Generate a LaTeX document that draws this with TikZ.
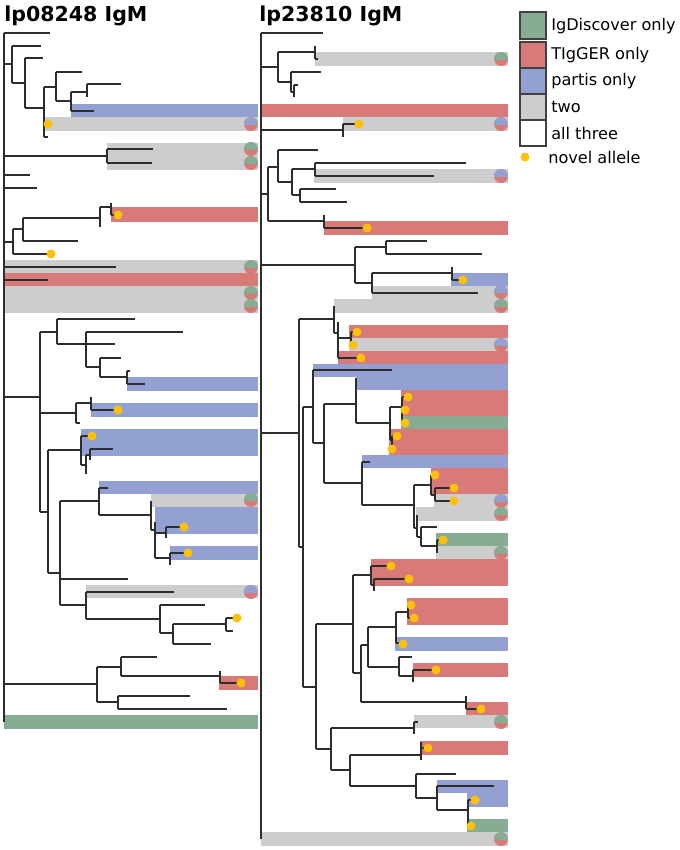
\documentclass[tikz,border=0pt]{standalone}
\usepackage{fontspec}
\setmainfont{DejaVu Sans}
\definecolor{cg}{RGB}{134,172,148}
\definecolor{cr}{RGB}{216,122,120}
\definecolor{cb}{RGB}{147,161,210}
\definecolor{cgr}{RGB}{205,205,205}
\definecolor{cy}{RGB}{255,192,10}
\definecolor{tl}{RGB}{45,45,45}
\newcommand\vs[3]{\draw[tree] (#1,#2) -- (#1,#3);}
\newcommand\hs[3]{\draw[tree] (#2,#1) -- (#3,#1);}
\newcommand\bd[5]{\fill[#1] (#2,#4) rectangle (#3,#5);}
\newcommand\dt[2]{\fill[cy] (#1,#2) circle[radius=4.5];}
\newcommand\pc[4]{\fill[#4] (#1,#2) circle[radius=7];
  \begin{scope}\clip ({#1-8},{#2-8}) rectangle ({#1+8},#2);
  \fill[#3] (#1,#2) circle[radius=7];\end{scope}}
\begin{document}
\begin{tikzpicture}[x=0.75pt,y=-0.75pt,
  tree/.style={draw=tl,line width=0.95pt,line cap=square},
  ttl/.style={anchor=base west,inner sep=0pt,font=\fontsize{15.4}{18}\selectfont\bfseries},
  lgbox/.style={draw=black!75,line width=0.9pt},
  lgtxt/.style={anchor=west,inner sep=0pt,font=\fontsize{12.1}{14}\selectfont}]
\useasboundingbox (0,0) rectangle (680,850);
\fill[white] (0,0) rectangle (680,850);
% ---------- titles
\node[ttl] (t1) at (4,21) {lp08248 IgM};
\node[ttl] (t2) at (259,21) {lp23810 IgM};
% ---------- LEFT bands
\bd{cb}{71}{258}{104}{117}
\bd{cgr}{44}{258}{117}{131}
\bd{cgr}{107}{258}{143}{170}
\bd{cr}{111}{258}{207}{222}
\bd{cgr}{4}{258}{260}{273}
\bd{cr}{4}{258}{273}{286}
\bd{cgr}{4}{258}{286}{313}
\bd{cb}{127}{258}{377}{391}
\bd{cb}{91}{258}{403}{417}
\bd{cb}{81}{258}{429}{456}
\bd{cb}{99}{258}{481}{494}
\bd{cgr}{151}{258}{494}{507}
\bd{cb}{155}{258}{507}{534}
\bd{cb}{170}{258}{546}{560}
\bd{cgr}{86}{258}{585}{598}
\bd{cr}{219}{258}{676}{690}
\bd{cg}{4}{258}{715}{729}
% ---------- LEFT tree
\vs{4}{33}{722}
\hs{33}{4}{50}
\hs{64}{4}{12}
\vs{12}{46}{83} \hs{46}{12}{41} \hs{83}{12}{25}
\vs{25}{58}{108} \hs{58}{25}{43} \hs{108}{25}{44}
\vs{44}{87}{137} \hs{87}{44}{56} \hs{124}{44}{46} \hs{137}{44}{48}
\vs{56}{72}{101} \hs{72}{56}{82} \hs{101}{56}{71}
\vs{71}{92}{111} \hs{92}{71}{87} \hs{111}{71}{94}
\vs{87}{84}{97} \hs{84}{87}{121}
\hs{156}{4}{107}
\vs{107}{149}{163} \hs{149}{107}{153} \hs{163}{107}{152}
\hs{175}{4}{30}
\hs{188}{4}{37}
\hs{242}{4}{13}
\vs{13}{229}{254} \hs{229}{13}{23} \hs{254}{13}{48}
\vs{23}{218}{241} \hs{218}{23}{100} \hs{241}{23}{78}
\vs{100}{207}{227} \hs{207}{100}{111}
\vs{111}{203}{215} \hs{215}{111}{115}
\hs{267}{4}{116}
\hs{280}{4}{48}
\hs{397}{4}{40}
\vs{40}{332}{512} \hs{332}{40}{57} \hs{413}{40}{76} \hs{512}{40}{48}
\vs{57}{319}{344} \hs{319}{57}{135} \hs{344}{57}{86}
\vs{86}{332}{367} \hs{332}{86}{183} \hs{344}{86}{115} \hs{367}{86}{100}
\vs{100}{358}{377} \hs{358}{100}{121} \hs{377}{100}{127}
\vs{127}{371}{384} \hs{371}{127}{130} \hs{384}{127}{145}
\vs{76}{403}{423} \hs{403}{76}{91} \hs{423}{76}{80}
\vs{91}{397}{410} \hs{410}{91}{115}
\vs{48}{450}{573} \hs{450}{48}{81} \hs{573}{48}{60}
\vs{81}{436}{465} \hs{436}{81}{88} \hs{465}{81}{86}
\vs{86}{455}{474} \hs{455}{86}{90}
\vs{90}{449}{460} \hs{449}{90}{113}
\vs{60}{501}{605} \hs{501}{60}{99} \hs{579}{60}{128} \hs{605}{60}{86}
\vs{99}{488}{515} \hs{488}{99}{108} \hs{515}{99}{151}
\vs{151}{501}{530} \hs{530}{151}{155}
\vs{155}{522}{558} \hs{533}{155}{166} \hs{558}{155}{170}
\vs{166}{527}{538} \hs{527}{166}{182}
\vs{170}{553}{565} \hs{553}{170}{185}
\vs{86}{592}{619} \hs{592}{86}{174} \hs{619}{86}{160}
\vs{160}{605}{633} \hs{605}{160}{205} \hs{633}{160}{173}
\vs{173}{624}{644} \hs{624}{173}{226} \hs{644}{173}{211}
\vs{226}{618}{631} \hs{618}{226}{234} \hs{631}{226}{233}
\hs{684}{4}{97}
\vs{97}{667}{702} \hs{667}{97}{121} \hs{702}{97}{118}
\vs{121}{657}{676} \hs{657}{121}{157} \hs{676}{121}{220}
\vs{220}{671}{683} \hs{683}{220}{238}
\vs{118}{696}{709} \hs{696}{118}{190} \hs{709}{118}{227}
% LEFT dots and pies
\dt{48}{124} \dt{118}{215} \dt{51}{254} \dt{118}{410} \dt{92}{436}
\dt{184}{527} \dt{188}{553} \dt{237}{618} \dt{241}{683}
\pc{251}{124}{cb}{cr}
\pc{251}{149}{cg}{cr} \pc{251}{163}{cg}{cr}
\pc{251}{267}{cg}{cr} \pc{251}{293}{cg}{cr} \pc{251}{306}{cg}{cr}
\pc{251}{500}{cg}{cr} \pc{251}{592}{cb}{cr}
% ---------- RIGHT bands
\bd{cgr}{315}{508}{52}{66}
\bd{cr}{261}{508}{104}{117}
\bd{cgr}{343}{508}{117}{131}
\bd{cgr}{314}{508}{169}{183}
\bd{cr}{324}{508}{221}{235}
\bd{cb}{451}{508}{273}{286}
\bd{cgr}{372}{508}{286}{299}
\bd{cgr}{334}{508}{299}{313}
\bd{cr}{349}{508}{325}{338}
\bd{cgr}{349}{508}{338}{351}
\bd{cr}{338}{508}{351}{364}
\bd{cb}{313}{508}{364}{377}
\bd{cb}{356}{508}{377}{390}
\bd{cr}{401}{508}{390}{416}
\bd{cg}{401}{508}{416}{429}
\bd{cr}{389}{508}{429}{455}
\bd{cb}{362}{508}{455}{468}
\bd{cr}{431}{508}{468}{494}
\bd{cgr}{434}{508}{494}{507}
\bd{cgr}{416}{508}{507}{521}
\bd{cg}{436}{508}{533}{546}
\bd{cgr}{436}{508}{546}{559}
\bd{cr}{371}{508}{559}{586}
\bd{cr}{407}{508}{598}{625}
\bd{cb}{395}{508}{637}{651}
\bd{cr}{413}{508}{663}{677}
\bd{cr}{466}{508}{702}{715}
\bd{cgr}{414}{508}{715}{728}
\bd{cr}{420}{508}{741}{755}
\bd{cb}{437}{508}{780}{793}
\bd{cb}{467}{508}{793}{807}
\bd{cg}{467}{508}{819}{832}
\bd{cgr}{261}{508}{832}{846}
% ---------- RIGHT tree
\vs{261}{33}{839}
\hs{33}{261}{323}
\hs{67}{261}{278}
\vs{278}{52}{82} \hs{52}{278}{315} \hs{82}{278}{291}
\vs{315}{46}{59} \hs{59}{315}{318}
\vs{291}{72}{92} \hs{72}{291}{321} \hs{92}{291}{294}
\vs{294}{85}{97} \hs{85}{294}{298}
\hs{130}{261}{343}
\vs{343}{124}{137} \hs{124}{343}{356}
\hs{194}{261}{268}
\vs{268}{167}{221} \hs{167}{268}{278} \hs{221}{268}{324}
\vs{278}{150}{182} \hs{150}{278}{318} \hs{182}{278}{292}
\vs{292}{169}{195} \hs{169}{292}{315} \hs{195}{292}{300}
\vs{315}{163}{176} \hs{163}{315}{466} \hs{176}{315}{434}
\vs{300}{189}{202} \hs{189}{300}{336} \hs{202}{300}{347}
\vs{324}{215}{228} \hs{228}{324}{364}
\hs{265}{261}{355}
\vs{355}{247}{283} \hs{247}{355}{386} \hs{283}{355}{372}
\vs{386}{241}{254} \hs{241}{386}{427} \hs{254}{386}{482}
\vs{372}{273}{293} \hs{273}{372}{452} \hs{293}{372}{478}
\vs{452}{267}{280} \hs{280}{452}{460}
\hs{433}{261}{299}
\vs{299}{319}{547} \hs{319}{299}{334} \hs{547}{299}{303}
\vs{334}{306}{333} \hs{333}{334}{338}
\vs{338}{322}{358} \hs{338}{338}{351} \hs{358}{338}{358}
\vs{351}{332}{345} \hs{332}{351}{354}
\vs{303}{407}{687} \hs{407}{303}{313} \hs{687}{303}{316}
\vs{313}{370}{443} \hs{370}{313}{392} \hs{443}{313}{324}
\vs{324}{404}{483} \hs{404}{324}{356} \hs{483}{324}{362}
\vs{356}{378}{423} \hs{423}{356}{390}
\vs{390}{407}{440} \hs{407}{390}{402} \hs{440}{390}{392}
\vs{402}{397}{423} \hs{397}{402}{405}
\vs{392}{436}{449} \hs{436}{392}{394}
\vs{362}{462}{505} \hs{462}{362}{370} \hs{505}{362}{414}
\vs{414}{485}{528} \hs{485}{414}{431} \hs{528}{414}{417}
\vs{431}{475}{495} \hs{495}{431}{435}
\vs{435}{488}{501} \hs{488}{435}{451} \hs{501}{435}{451}
\vs{417}{515}{537} \hs{537}{417}{421}
\vs{421}{527}{546} \hs{527}{421}{437} \hs{546}{421}{437}
\vs{437}{540}{553} \hs{540}{437}{440}
\vs{316}{624}{749} \hs{624}{316}{353} \hs{749}{316}{331}
\vs{353}{575}{673} \hs{575}{353}{371} \hs{673}{353}{361}
\vs{371}{566}{585} \hs{566}{371}{388} \hs{585}{371}{374}
\vs{374}{579}{591} \hs{579}{374}{406}
\vs{361}{645}{702} \hs{645}{361}{368} \hs{702}{361}{466}
\vs{368}{627}{667} \hs{627}{368}{396} \hs{667}{368}{399}
\vs{396}{612}{643} \hs{612}{396}{408} \hs{643}{396}{400}
\vs{408}{605}{618} \hs{618}{408}{411}
\vs{399}{657}{676} \hs{657}{399}{412} \hs{676}{399}{413}
\vs{413}{670}{682} \hs{670}{413}{433}
\vs{466}{696}{709} \hs{709}{466}{478}
\vs{331}{728}{770} \hs{728}{331}{414} \hs{770}{331}{350}
\vs{414}{722}{734} \hs{722}{414}{418}
\vs{350}{755}{786} \hs{755}{350}{421} \hs{786}{350}{416}
\vs{421}{742}{760} \hs{748}{421}{425}
\vs{416}{774}{798} \hs{774}{416}{456} \hs{798}{416}{437}
\vs{437}{786}{810} \hs{786}{437}{494} \hs{810}{437}{468}
\vs{468}{800}{826} \hs{800}{468}{472}
% RIGHT dots and pies
\dt{359}{124} \dt{367}{228} \dt{463}{280}
\dt{357}{332} \dt{353}{345} \dt{361}{358}
\dt{408}{397} \dt{405}{410} \dt{405}{423} \dt{397}{436} \dt{392}{449}
\dt{435}{475} \dt{454}{488} \dt{454}{501} \dt{443}{540}
\dt{391}{566} \dt{409}{579} \dt{411}{605} \dt{414}{618} \dt{403}{644}
\dt{436}{670} \dt{481}{709} \dt{428}{748} \dt{475}{800} \dt{471}{826}
\pc{501}{59}{cg}{cr} \pc{501}{124}{cb}{cr} \pc{501}{176}{cb}{cr}
\pc{501}{292}{cb}{cr} \pc{501}{306}{cg}{cr} \pc{501}{345}{cb}{cr}
\pc{501}{501}{cb}{cr} \pc{501}{514}{cg}{cr} \pc{501}{553}{cg}{cr}
\pc{501}{722}{cg}{cr} \pc{501}{839}{cg}{cr}
% ---------- legend
\draw[lgbox,fill=cg] (520,12) rectangle (546,39);
\draw[lgbox,fill=cr] (520,42) rectangle (546,68);
\draw[lgbox,fill=cb] (520,68) rectangle (546,94);
\draw[lgbox,fill=cgr] (520,94) rectangle (546,120);
\draw[lgbox,fill=white] (520,120) rectangle (546,146);
\node[lgtxt] (l1) at (551,26) {IgDiscover only};
\node[lgtxt] (l2) at (551,55) {TIgGER only};
\node[lgtxt] (l3) at (551,81) {partis only};
\node[lgtxt] (l4) at (551,107) {two};
\node[lgtxt] (l5) at (551,133) {all three};
\fill[cy] (525,157) circle[radius=4.5];
\node[lgtxt] (l6) at (548,157) {novel allele};
\end{tikzpicture}
\end{document}
